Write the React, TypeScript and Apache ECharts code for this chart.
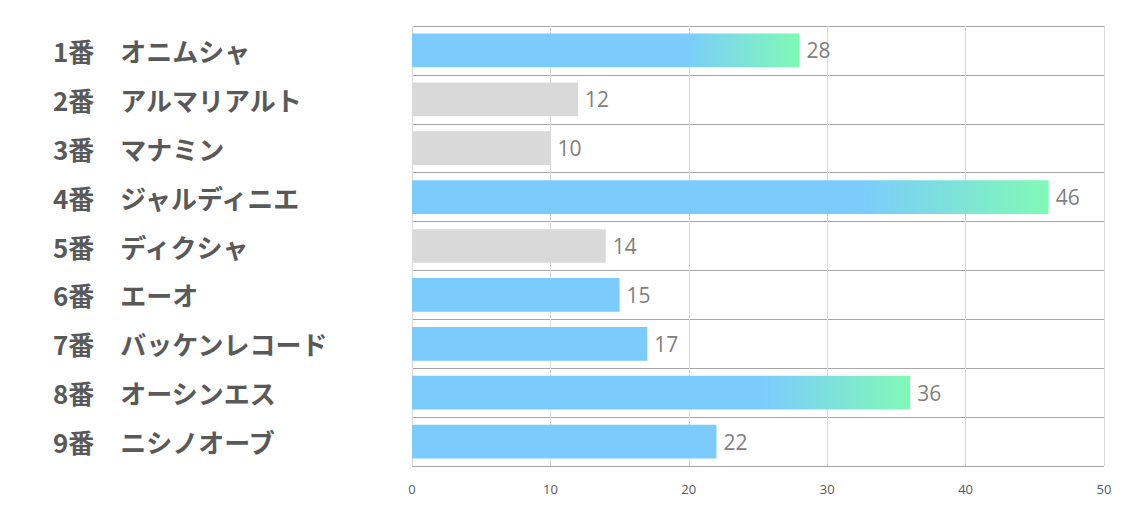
import React, { useEffect, useRef } from "react";
import * as echarts from "echarts";

const categories = [
  "1番　オニムシャ",
  "2番　アルマリアルト",
  "3番　マナミン",
  "4番　ジャルディニエ",
  "5番　ディクシャ",
  "6番　エーオ",
  "7番　バッケンレコード",
  "8番　オーシンエス",
  "9番　ニシノオーブ",
];
const values = [28, 12, 10, 46, 14, 15, 17, 36, 22];
const kinds = ["grad", "gray", "gray", "grad", "gray", "blue", "blue", "grad", "blue"];
const xTicks = [0, 10, 20, 30, 40, 50];

const BLUE = "#7BCBFD";
const GREEN = "#80F9B6";
const GRAY = "#D9D9D9";

function colorFor(kind: string) {
  if (kind === "gray") return GRAY;
  if (kind === "blue") return BLUE;
  return new echarts.graphic.LinearGradient(0, 0, 1, 0, [
    { offset: 0, color: BLUE },
    { offset: 0.7, color: BLUE },
    { offset: 1, color: GREEN },
  ]);
}

export default function App() {
  const ref = useRef<HTMLDivElement>(null);
  useEffect(() => {
    if (!ref.current) return;
    const chart = echarts.init(ref.current, null, { renderer: "svg" });
    chart.setOption({
      animation: false,
      grid: { left: 404, right: 22, top: 18, bottom: 36, containLabel: false },
      xAxis: {
        type: "value",
        min: xTicks[0],
        max: xTicks[xTicks.length - 1],
        interval: 10,
        axisLine: { show: false },
        axisTick: { show: false },
        axisLabel: {
          color: "#595959",
          fontSize: 13,
          fontFamily: "Open Sans",
          margin: 16,
        },
        splitLine: { show: true, lineStyle: { color: "#D9D9D9", width: 1 } },
      },
      yAxis: {
        type: "category",
        data: categories,
        inverse: true,
        axisLine: { show: false },
        axisTick: { show: false },
        axisLabel: {
          align: "left",
          margin: 359,
          color: "#595959",
          fontSize: 26,
          fontWeight: "bold",
          fontFamily: "Noto Sans CJK JP",
          padding: [0, 0, 8, 0],
        },
        splitLine: {
          show: true,
          interval: 0,
          lineStyle: { color: "#A6A6A6", width: 1 },
        },
      },
      series: [
        {
          type: "bar",
          barCategoryGap: "31%",
          data: values.map((v, i) => ({
            value: v,
            itemStyle: { color: colorFor(kinds[i]) },
          })),
          label: {
            show: true,
            position: "right",
            distance: 7,
            color: "#7F7F7F",
            fontSize: 21,
            fontFamily: "Open Sans",
          },
        },
      ],
    });
    return () => chart.dispose();
  }, []);
  return <div ref={ref} style={{ width: 1118, height: 494 }} />;
}
